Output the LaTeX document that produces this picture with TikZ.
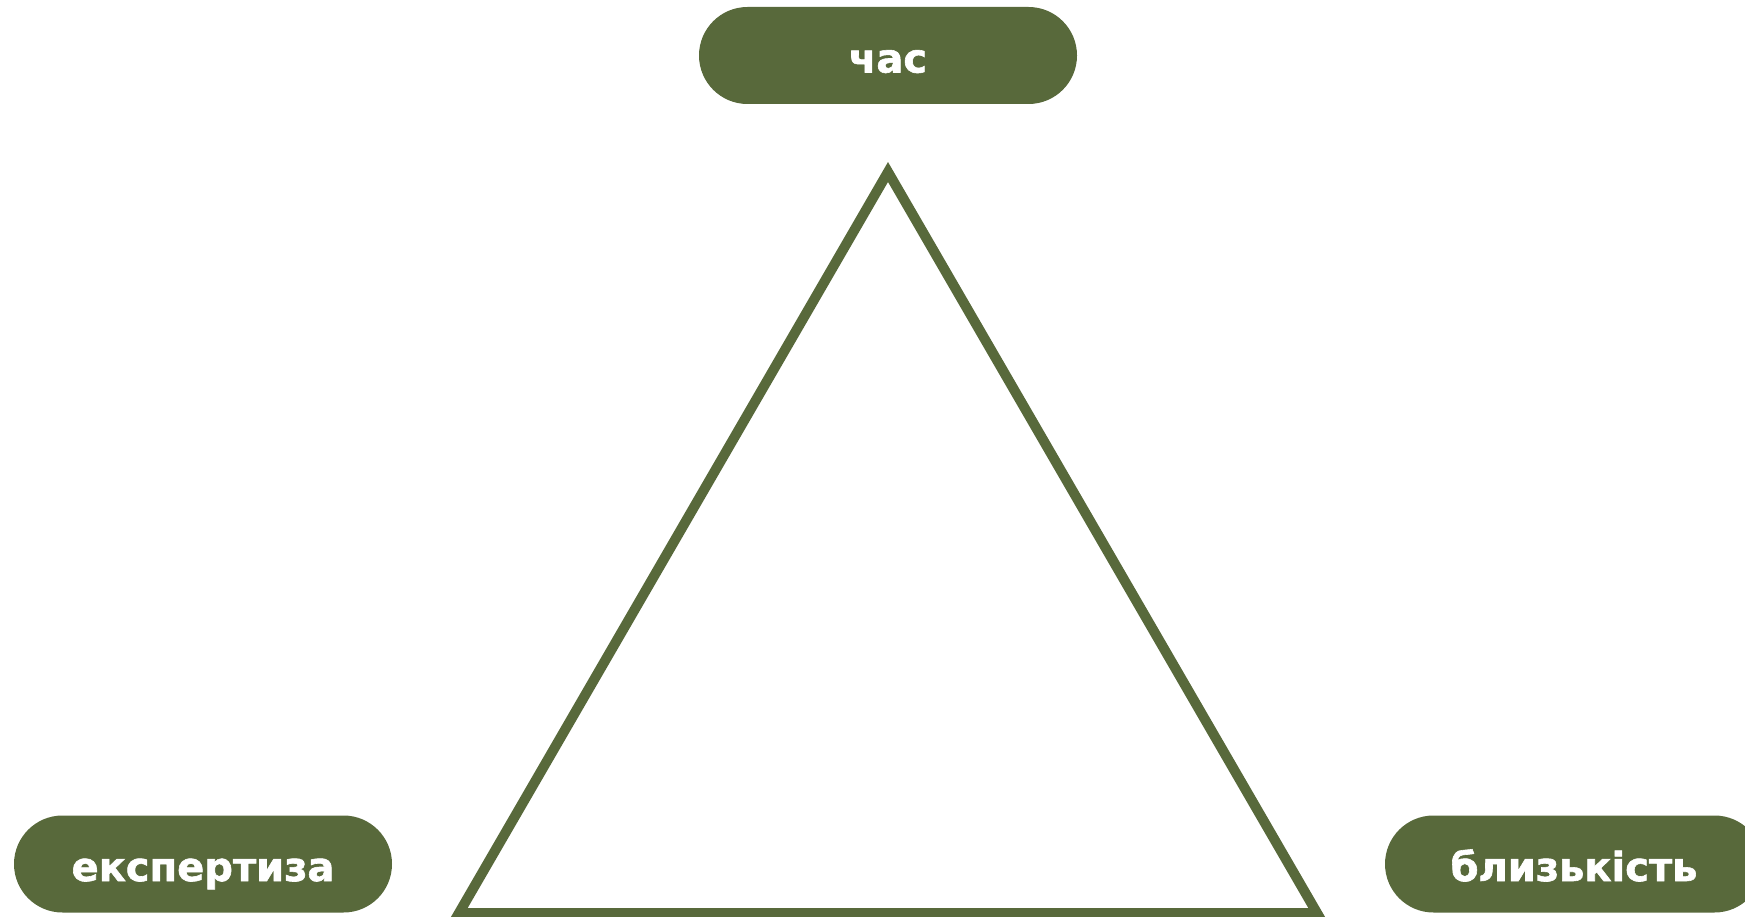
\documentclass[tikz,border=0pt]{standalone}
\usepackage{fontspec}
\setmainfont{DejaVu Sans}[BoldFeatures={FakeBold=1.5}]
\usetikzlibrary{shapes.misc}
\definecolor{mossgreen}{RGB}{88,105,59}
\tikzset{
  pill/.style={rounded rectangle, fill=mossgreen, text=white, minimum width=378pt, minimum height=97pt,
    inner sep=0pt, font=\fontsize{40}{40}\selectfont\bfseries, text height=34pt, text depth=0pt}
}
\begin{document}
\begin{tikzpicture}[x=1pt, y=-1pt]
  \useasboundingbox (0,0) rectangle (1745,917);
  \node[pill] (time) at (888,55.5) {час};
  \node[pill] (expertise) at (203,864) {експертиза};
  \node[pill] (closeness) at (1574,864) {близькість};
  % triangle
  \coordinate (top) at (888,172);
  \coordinate (right) at (1317,913);
  \coordinate (left) at (459,913);
  \draw[mossgreen, line width=10pt] (top) -- (right) -- (left) -- cycle;
\end{tikzpicture}
\end{document}
